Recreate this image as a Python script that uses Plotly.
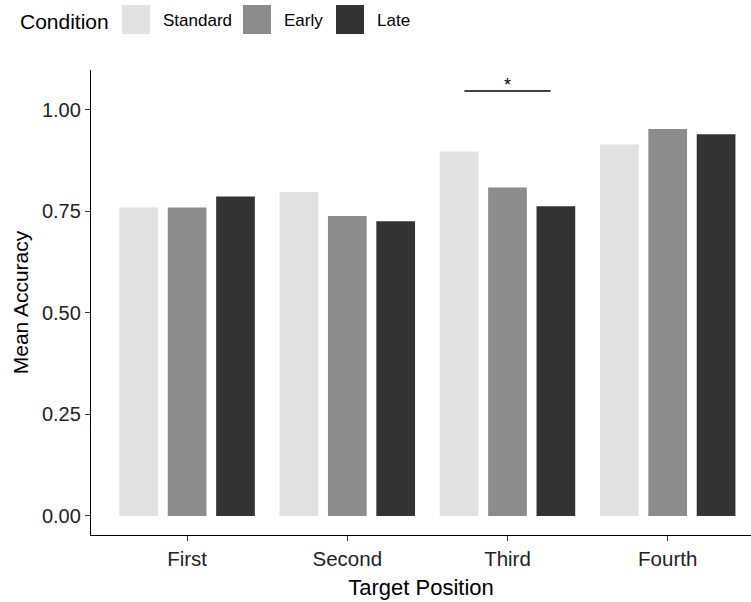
import plotly.graph_objects as go

# ---------------- data ----------------
positions = ["First", "Second", "Third", "Fourth"]
conditions = ["Standard", "Early", "Late"]
standard = [0.760, 0.798, 0.898, 0.915]
early = [0.760, 0.739, 0.809, 0.953]
late = [0.787, 0.726, 0.763, 0.940]
y_tick_vals = [0.0, 0.25, 0.50, 0.75, 1.00]
y_tick_text = ["0.00", "0.25", "0.50", "0.75", "1.00"]
sig_group = "Third"
sig_pair = ("Standard", "Late")
sig_label = "*"
sig_y = 1.047

# ---------------- styling ----------------
colors = {"Standard": "#E1E1E1", "Early": "#8C8C8C", "Late": "#333333"}
FONT = "Liberation Sans, Arial, sans-serif"
W, H = 751, 602
ML, MR, MT, MB = 91, 0, 70, 67
PW, PH = W - ML - MR, H - MT - MB
BARGAP = 0.094
BARGROUPGAP = 0.2

series = {"Standard": standard, "Early": early, "Late": late}

fig = go.Figure()
for c in conditions:
    fig.add_trace(go.Bar(
        x=positions, y=series[c], name=c,
        marker=dict(color=colors[c], line=dict(width=0)),
        showlegend=False,
    ))

# significance bracket (from category index and dodge offsets)
slot = (1 - BARGAP) / len(conditions)
gi = positions.index(sig_group)
def dodge(cond):
    return (conditions.index(cond) - (len(conditions) - 1) / 2) * slot
x0 = gi + dodge(sig_pair[0]) * 0.89
x1 = gi + dodge(sig_pair[1]) * 0.89
fig.add_shape(type="line", xref="x", yref="y", x0=x0, x1=x1, y0=sig_y, y1=sig_y,
              line=dict(color="black", width=1.5))
fig.add_annotation(x=(x0 + x1) / 2, y=sig_y, xref="x", yref="y", text=sig_label,
                   showarrow=False, yanchor="bottom", yshift=-6,
                   font=dict(family=FONT, size=18, color="black"))

# ---------------- manual legend (top) ----------------
def px2paper_x(px):
    return (px - ML) / PW
def px2paper_y(py):
    return (H - MB - py) / PH

fig.add_annotation(xref="paper", yref="paper", x=px2paper_x(18), y=px2paper_y(22),
                   text="Condition", showarrow=False, xanchor="left", yanchor="middle",
                   font=dict(family=FONT, size=21, color="black"))
key_left = [122, 243, 336]
for c, kx in zip(conditions, key_left):
    fig.add_shape(type="rect", xref="paper", yref="paper",
                  x0=px2paper_x(kx), x1=px2paper_x(kx + 28),
                  y0=px2paper_y(34), y1=px2paper_y(5),
                  fillcolor=colors[c], line=dict(width=0))
    fig.add_annotation(xref="paper", yref="paper", x=px2paper_x(kx + 39), y=px2paper_y(21),
                       text=c, showarrow=False, xanchor="left", yanchor="middle",
                       font=dict(family=FONT, size=17, color="black"))

fig.update_layout(
    width=W, height=H,
    margin=dict(l=ML, r=MR, t=MT, b=MB, pad=0),
    paper_bgcolor="white", plot_bgcolor="white",
    barmode="group", bargap=BARGAP, bargroupgap=BARGROUPGAP,
    font=dict(family=FONT, color="black"),
    xaxis=dict(
        type="category", categoryorder="array", categoryarray=positions,
        range=[-0.6, 3.52],
        showline=True, linecolor="black", linewidth=1.3,
        ticks="outside", ticklen=5, tickwidth=1.2, tickcolor="#333333",
        tickfont=dict(family=FONT, size=20.5, color="#222222"),
        showgrid=False, zeroline=False,
        title=dict(text="Target Position", standoff=10,
                   font=dict(family=FONT, size=22, color="black")),
    ),
    yaxis=dict(
        range=[-0.047, 1.0985],
        tickvals=y_tick_vals, ticktext=y_tick_text,
        showline=True, linecolor="black", linewidth=1.3,
        ticks="outside", ticklen=5, tickwidth=1.2, tickcolor="#333333",
        tickfont=dict(family=FONT, size=20, color="#222222"),
        showgrid=False, zeroline=False,
        title=dict(text="Mean Accuracy", standoff=7,
                   font=dict(family=FONT, size=21, color="black")),
    ),
)

fig.write_html("out.html")
